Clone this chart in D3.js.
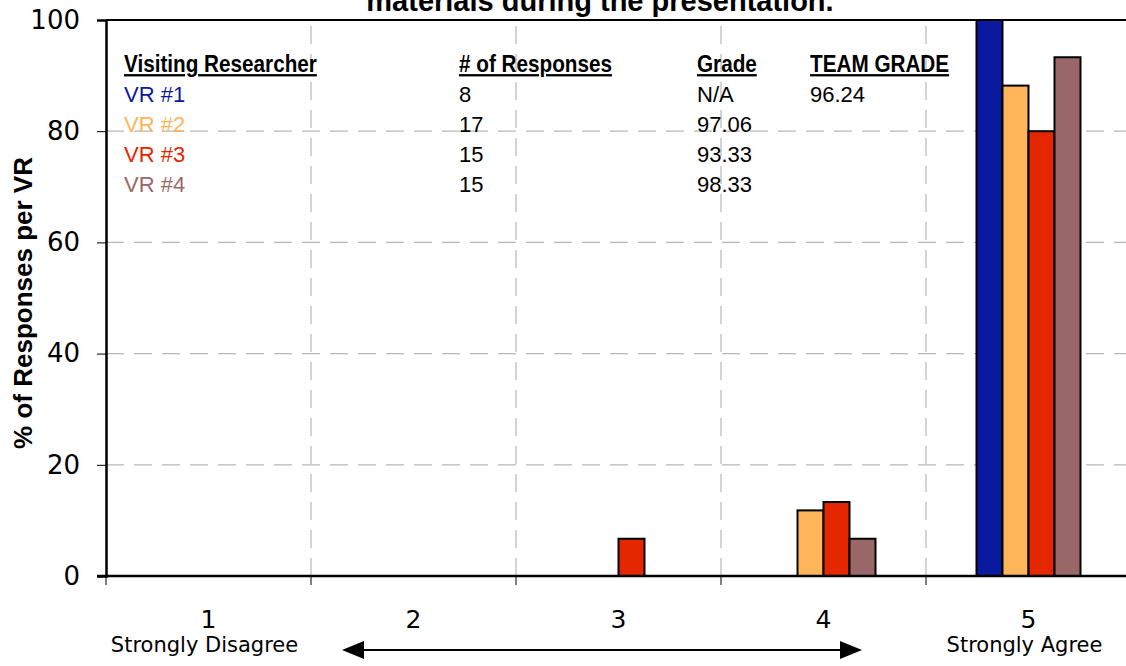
<!DOCTYPE html>
<html>
<head>
<meta charset="utf-8">
<script src="https://cdn.jsdelivr.net/npm/d3@7"></script>
<style>
  body { margin: 0; background: #fff; }
  svg { display: block; }
</style>
</head>
<body>
<div id="chart"></div>
<script>
var categories = ["1", "2", "3", "4", "5"];
var subLabels = ["Strongly Disagree", "", "", "", "Strongly Agree"];
var seriesNames = ["VR #1", "VR #2", "VR #3", "VR #4"];
var vr1 = [0, 0, 0, 0, 100];
var vr2 = [0, 0, 0, 11.8, 88.2];
var vr3 = [0, 0, 6.7, 13.3, 80];
var vr4 = [0, 0, 0, 6.7, 93.3];
var yTicks = [0, 20, 40, 60, 80, 100];
var responses = ["8", "17", "15", "15"];
var grades = ["N/A", "97.06", "93.33", "98.33"];
var teamGrade = ["96.24", "", "", ""];
var headers = ["Visiting Researcher", "# of Responses", "Grade", "TEAM GRADE"];

var colors = ["#0A1A9E", "#FFB55A", "#E52700", "#9A6868"];
var seriesValues = [vr1, vr2, vr3, vr4];

var width = 1126;
var height = 666;
var margin = {top: 20, left: 106, bottom: 90};
var step = 205;

var svg = d3.select("#chart")
  .append("svg")
  .attr("width", width)
  .attr("height", height);

var x0 = d3.scaleBand()
  .domain(categories)
  .range([margin.left, margin.left + step * categories.length])
  .padding(0);

var x1 = d3.scaleBand()
  .domain(seriesNames)
  .range([0, 104])
  .padding(0);

var y = d3.scaleLinear()
  .domain([0, 100])
  .range([height - margin.bottom, margin.top]);

var plotRight = width;

// horizontal grid
svg.append("g")
  .selectAll("line")
  .data(yTicks.filter(d => d > 0 && d < 100))
  .join("line")
  .attr("x1", margin.left)
  .attr("x2", plotRight)
  .attr("y1", d => y(d))
  .attr("y2", d => y(d))
  .attr("stroke", "#b8b8b8")
  .attr("stroke-width", 1.2)
  .attr("stroke-dasharray", "18,10");

// vertical grid at category boundaries
svg.append("g")
  .selectAll("line")
  .data(categories.slice(1))
  .join("line")
  .attr("x1", d => x0(d))
  .attr("x2", d => x0(d))
  .attr("y1", y(0))
  .attr("y2", y(100))
  .attr("stroke", "#b8b8b8")
  .attr("stroke-width", 1.2)
  .attr("stroke-dasharray", "18,10");

// bars
var bars = [];
seriesValues.forEach(function(vals, s) {
  vals.forEach(function(v, i) {
    if (v > 0) bars.push({cat: categories[i], name: seriesNames[s], value: v, color: colors[s]});
  });
});

var groupOffset = (step - 104) / 2;
svg.append("g")
  .selectAll("rect")
  .data(bars)
  .join("rect")
  .attr("x", d => x0(d.cat) + groupOffset + x1(d.name))
  .attr("y", d => y(d.value))
  .attr("width", x1.bandwidth())
  .attr("height", d => y(0) - y(d.value))
  .attr("fill", d => d.color)
  .attr("stroke", "#000")
  .attr("stroke-width", 2);

// top frame line
svg.append("line")
  .attr("x1", margin.left)
  .attr("x2", plotRight)
  .attr("y1", y(100))
  .attr("y2", y(100))
  .attr("stroke", "#000")
  .attr("stroke-width", 2);

// y axis
var yAxis = svg.append("g")
  .attr("transform", `translate(${margin.left},0)`)
  .call(d3.axisLeft(y).tickValues(yTicks).tickSize(9).tickPadding(17));
yAxis.select(".domain").attr("stroke-width", 2.5);
yAxis.selectAll(".tick line").attr("stroke-width", 1);
yAxis.selectAll(".tick text")
  .attr("font-family", "DejaVu Sans, sans-serif")
  .attr("font-size", 26)
  .attr("fill", "#000");

// x axis (boundary ticks)
var xAxisG = svg.append("g");
xAxisG.append("line")
  .attr("x1", margin.left - 9)
  .attr("x2", plotRight)
  .attr("y1", y(0))
  .attr("y2", y(0))
  .attr("stroke", "#000")
  .attr("stroke-width", 2.5);
xAxisG.selectAll(".btick")
  .data(categories)
  .join("line")
  .attr("class", "btick")
  .attr("x1", d => x0(d))
  .attr("x2", d => x0(d))
  .attr("y1", y(0))
  .attr("y2", y(0) + 9)
  .attr("stroke", "#000")
  .attr("stroke-width", 1);

xAxisG.selectAll(".cat")
  .data(categories)
  .join("text")
  .attr("class", "cat")
  .attr("x", d => x0(d) + x0.bandwidth() / 2)
  .attr("y", 628)
  .attr("text-anchor", "middle")
  .attr("font-family", "DejaVu Sans, sans-serif")
  .attr("font-size", 25)
  .text(d => d);

xAxisG.selectAll(".sub")
  .data(categories)
  .join("text")
  .attr("class", "sub")
  .attr("x", d => x0(d) + x0.bandwidth() / 2 - 4)
  .attr("y", 652)
  .attr("text-anchor", "middle")
  .attr("font-family", "DejaVu Sans, sans-serif")
  .attr("font-size", 21)
  .text((d, i) => subLabels[i]);

// double-headed arrow
var arrowY = 650;
var ax1 = x0("2") + 31, ax2 = x0("4") + 141;
svg.append("line")
  .attr("x1", ax1 + 18).attr("x2", ax2 - 18)
  .attr("y1", arrowY).attr("y2", arrowY)
  .attr("stroke", "#000").attr("stroke-width", 2);
svg.append("path")
  .attr("d", `M${ax1},${arrowY} L${ax1 + 22},${arrowY - 9} L${ax1 + 22},${arrowY + 9} Z`)
  .attr("fill", "#000");
svg.append("path")
  .attr("d", `M${ax2},${arrowY} L${ax2 - 22},${arrowY - 9} L${ax2 - 22},${arrowY + 9} Z`)
  .attr("fill", "#000");

// y axis title
svg.append("text")
  .attr("transform", "translate(32,303) rotate(-90)")
  .attr("text-anchor", "middle")
  .attr("font-family", "Liberation Sans, Arial, sans-serif")
  .attr("font-weight", "bold")
  .attr("font-size", 26)
  .text("% of Responses per VR");

// chart title (cut at top, like the original)
svg.append("text")
  .attr("x", 600)
  .attr("y", 11)
  .attr("text-anchor", "middle")
  .attr("font-family", "Liberation Sans, Arial, sans-serif")
  .attr("font-weight", "bold")
  .attr("font-size", 29)
  .text("materials during the presentation.");

// info table inside plot
var colX = [124, 459, 697, 810];
var table = svg.append("g");
table.selectAll(".hdr")
  .data(headers)
  .join("text")
  .attr("class", "hdr")
  .attr("transform", (d, i) => `translate(${colX[i]},72) scale(0.9,1)`)
  .attr("font-family", "Liberation Sans, Arial, sans-serif")
  .attr("font-weight", "bold")
  .attr("font-size", 23)
  .attr("text-decoration", "underline")
  .text(d => d);

var columns = [seriesNames, responses, grades, teamGrade];
columns.forEach(function(col, c) {
  table.selectAll(".col" + c)
    .data(col)
    .join("text")
    .attr("class", "col" + c)
    .attr("x", colX[c])
    .attr("y", (d, i) => 102 + i * 30)
    .attr("font-family", "Liberation Sans, Arial, sans-serif")
    .attr("font-size", 22)
    .attr("fill", (d, i) => c === 0 ? colors[i] : "#000")
    .text(d => d);
});
</script>
</body>
</html>
